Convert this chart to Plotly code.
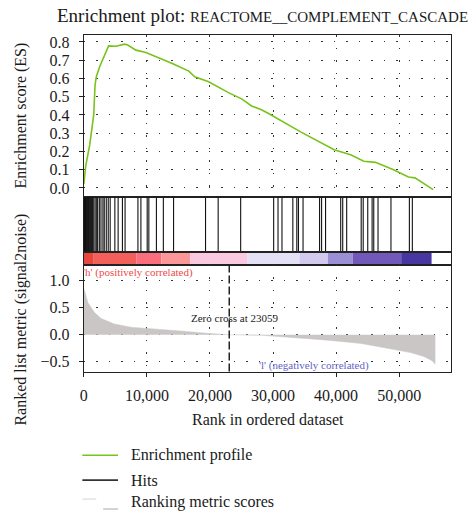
import plotly.graph_objects as go

# ---------------- data ----------------
es_rank = [0, 300, 940, 1570, 1780, 1980, 2510, 3140, 3930, 5130, 6440, 6960, 8270, 9840,
           10890, 14030, 16650, 17590, 19790, 22930, 25020, 26600, 28170, 29220, 34450,
           39690, 42300, 44390, 46230, 49110, 51460, 52510, 55390]
es_val = [0.02, 0.12, 0.237, 0.40, 0.564, 0.609, 0.664, 0.718, 0.778, 0.776, 0.788, 0.783,
          0.755, 0.742, 0.728, 0.682, 0.64, 0.609, 0.582, 0.522, 0.488, 0.449, 0.428, 0.409,
          0.306, 0.209, 0.182, 0.146, 0.14, 0.10, 0.06, 0.055, -0.009]

hits = [100, 260, 410, 570, 730, 880, 1040, 1200, 1360, 1570, 1780, 1980, 2190, 2460, 2720,
        3030, 3240, 3560, 3870, 4180, 4920, 5440, 6120, 6540, 8580, 9050, 10050, 10310,
        11510, 12610, 14230, 19300, 21300, 24870, 30100, 30790, 31420, 33140, 33770, 34030,
        34760, 37380, 37700, 38330, 40730, 41050, 41680, 43980, 44300, 45020, 45710, 45970,
        46650, 48700, 51620, 52090]

metric_rank = [0, 125, 660, 1700, 2750, 4840, 7470, 10090, 15330, 19530, 23059, 28220,
               33460, 38700, 43950, 49190, 51810, 53900, 55220, 55740]
metric_val = [0.85, 0.81, 0.59, 0.41, 0.30, 0.20, 0.14, 0.12, 0.07, 0.026, 0.0, -0.01,
              -0.05, -0.10, -0.16, -0.27, -0.33, -0.40, -0.48, -0.545]

bar_edges = [0, 1470, 8320, 12300, 16860, 25970, 34190, 38690, 42620, 50320, 55140]
bar_colors = ["#e8473e", "#f35f5a", "#fb6e7e", "#fd9696", "#fac8e1",
              "#e4e0f6", "#d3c9ee", "#9b90d6", "#7259b9", "#4837a0"]

zero_cross = 23059
x_ticks = [0, 10000, 20000, 30000, 40000, 50000]
es_ticks = [0.0, 0.1, 0.2, 0.3, 0.4, 0.5, 0.6, 0.7, 0.8]
metric_ticks = [-0.5, 0.0, 0.5, 1.0]

legend_labels = ["Enrichment profile", "Hits", "Ranking metric scores"]

# ---------------- layout helpers ----------------
W, H = 474, 515
FONT = "Times New Roman, Liberation Serif, DejaVu Serif, serif"
TXT = "#1a1a1a"
X_RANGE = [0, 58250]
xdom = [80.5 / W, 451 / W]


def py(pix):
    return 1 - pix / H


dom_es = [py(196), py(33.3)]
dom_hits = [py(251), py(196)]
dom_bar = [py(264), py(251)]
dom_met = [py(371), py(264)]

GRID_DASH = "1.5px,11px"

fig = go.Figure()

fig.add_trace(go.Scatter(x=es_rank, y=es_val, mode="lines",
                         line=dict(color="#78c31b", width=1.6),
                         xaxis="x", yaxis="y", showlegend=False, hoverinfo="skip"))

hx, hy = [], []
for h in hits:
    hx += [h, h, None]
    hy += [0, 1, None]
fig.add_trace(go.Scatter(x=hx, y=hy, mode="lines", line=dict(color="#111111", width=1.1),
                         xaxis="x2", yaxis="y2", showlegend=False, hoverinfo="skip"))

fig.add_trace(go.Scatter(x=metric_rank, y=metric_val, mode="lines", fill="tozeroy",
                         fillcolor="#cac6c6", line=dict(color="#cac6c6", width=0.5),
                         xaxis="x4", yaxis="y4", showlegend=False, hoverinfo="skip"))

shapes = []
for i, c in enumerate(bar_colors):
    shapes.append(dict(type="rect", xref="x3", yref="y3 domain",
                       x0=bar_edges[i], x1=bar_edges[i + 1], y0=0, y1=1,
                       fillcolor=c, line=dict(width=0), layer="below"))
shapes.append(dict(type="line", xref="x4", yref="y4 domain", x0=zero_cross, x1=zero_cross,
                   y0=0, y1=1, line=dict(color="#222222", width=1.5, dash="8px,3px")))

# manual legend
leg_y = [455, 480]
leg_col = ["#78c31b", "#333333"]
for yy, cc in zip(leg_y, leg_col):
    shapes.append(dict(type="line", xref="paper", yref="paper", x0=79 / W, x1=115 / W,
                       y0=py(yy), y1=py(yy), line=dict(color=cc, width=1.6)))
shapes.append(dict(type="line", xref="paper", yref="paper", x0=79 / W, x1=93 / W,
                   y0=py(499), y1=py(499), line=dict(color="#dddddd", width=1.2)))
shapes.append(dict(type="line", xref="paper", yref="paper", x0=100 / W, x1=115 / W,
                   y0=py(509), y1=py(509), line=dict(color="#c8c8c8", width=1.6)))

annotations = []
for lab, yy in zip(legend_labels, [455, 480, 502]):
    annotations.append(dict(text=lab, x=126 / W, y=py(yy), xref="paper", yref="paper",
                            xanchor="left", yanchor="middle", showarrow=False,
                            font=dict(family=FONT, size=16, color=TXT)))

annotations += [
    dict(text="Enrichment plot: <span style='font-size:15px'>REACTOME__COMPLEMENT_CASCADE</span>",
         x=51 / W, y=py(14), xref="paper", yref="paper", xanchor="left", yanchor="middle",
         showarrow=False, font=dict(family=FONT, size=19, color=TXT)),
    dict(text="Enrichment score (ES)", x=17 / W, y=py(114), xref="paper", yref="paper",
         textangle=-90, showarrow=False, xanchor="center", yanchor="middle",
         font=dict(family=FONT, size=16, color=TXT)),
    dict(text="Ranked list metric (signal2noise)", x=17 / W, y=py(319), xref="paper",
         yref="paper", textangle=-90, showarrow=False, xanchor="center", yanchor="middle",
         font=dict(family=FONT, size=16, color=TXT)),
    dict(text="Rank in ordered dataset", x=266 / W, y=py(419), xref="paper", yref="paper",
         showarrow=False, xanchor="center", yanchor="middle",
         font=dict(family=FONT, size=16, color=TXT)),
    dict(text="'h' (positively correlated)", x=0, y=1.157, xref="x4", yref="y4",
         xanchor="left", yanchor="middle", showarrow=False, xshift=-3,
         font=dict(family=FONT, size=11, color="#ee4a4a")),
    dict(text="Zero cross at %d" % zero_cross, x=16700, y=0.315, xref="x4", yref="y4",
         xanchor="left", yanchor="middle", showarrow=False,
         font=dict(family=FONT, size=11, color=TXT)),
    dict(text="'l' (negatively correlated)", x=27400, y=-0.57, xref="x4", yref="y4",
         xanchor="left", yanchor="middle", showarrow=False,
         font=dict(family=FONT, size=11, color="#6464c8")),
]

frame = dict(showline=True, linecolor="#222222", linewidth=1.3, mirror=True)
tickfont = dict(family=FONT, size=16, color=TXT)


def xax(dom_anchor, show):
    d = dict(domain=xdom, range=X_RANGE, anchor=dom_anchor, zeroline=False, **frame)
    if show == "grid":
        d.update(tickvals=x_ticks, showticklabels=False, ticks="", showgrid=True,
                 gridcolor="#333333", griddash=GRID_DASH, gridwidth=1)
    elif show == "full":
        d.update(tickvals=x_ticks, tickformat=",", ticks="outside", ticklen=4,
                 tickcolor="#222222", tickfont=tickfont, showgrid=True,
                 gridcolor="#333333", griddash=GRID_DASH, gridwidth=1,
                 ticklabelstandoff=5)
    else:
        d.update(showticklabels=False, ticks="", showgrid=False)
    return d


yt = dict(ticks="outside", ticklen=4, tickcolor="#222222", tickfont=tickfont,
          showgrid=True, gridcolor="#333333", griddash=GRID_DASH, zeroline=False,
          tickformat=".1f", ticklabelstandoff=6)

fig.update_layout(
    width=W, height=H, margin=dict(l=0, r=0, t=0, b=0),
    paper_bgcolor="white", plot_bgcolor="white", showlegend=False,
    font=dict(family=FONT, color=TXT),
    xaxis=xax("y", "grid"),
    xaxis2=xax("y2", "none"),
    xaxis3=xax("y3", "none"),
    xaxis4=xax("y4", "full"),
    yaxis=dict(domain=dom_es, range=[-0.051, 0.837], anchor="x", tickvals=es_ticks,
               **yt, **frame),
    yaxis2=dict(domain=dom_hits, range=[0, 1], anchor="x2", showticklabels=False,
                ticks="", showgrid=False, zeroline=False, **frame),
    yaxis3=dict(domain=dom_bar, range=[0, 1], anchor="x3", showticklabels=False,
                ticks="", showgrid=False, zeroline=False, **frame),
    yaxis4=dict(domain=dom_met, range=[-0.68, 1.29], anchor="x4", tickvals=metric_ticks,
                **yt, **frame),
    shapes=shapes,
    annotations=annotations,
)

fig.write_html("out.html")
